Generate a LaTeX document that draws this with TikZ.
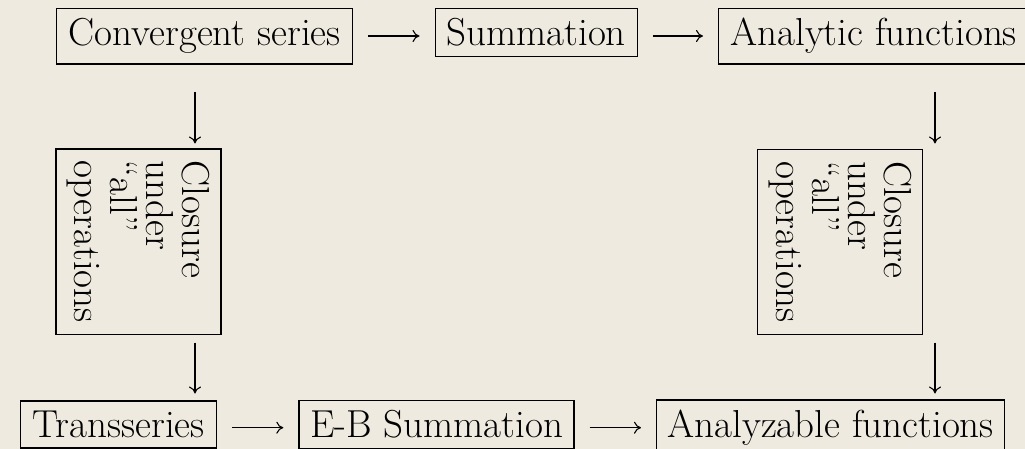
\documentclass[tikz,border=0pt]{standalone}
\usetikzlibrary{arrows.meta}
\definecolor{paper}{RGB}{238,234,224}
\begin{document}
\begin{tikzpicture}[x=1pt,y=-1pt,
  every node/.style={font=\fontsize{39}{36}\selectfont},
  box/.style={draw, line width=1.4pt, inner xsep=0pt, inner ysep=10pt, anchor=base west},
  turned/.style={draw, line width=1.4pt, inner sep=11pt, rotate=-90, align=left,
                 minimum width=185pt, minimum height=165pt},
  link/.style={line width=1.1pt, -{Computer Modern Rightarrow[length=7pt,width=12pt]}},
  gap/.style={shorten <=15pt, shorten >=15pt}]

% paper and page size
\fill[paper] (0,0) rectangle (1025,449);
\useasboundingbox (0,0) rectangle (1025,449);

% top row
\node[box, minimum width=296pt] (conv) at (56,46) {Convergent series};
\node[box, minimum width=202pt] (summ) at (434.5,46) {Summation};
\node[box, minimum width=310pt] (anal) at (718,46) {Analytic functions};

% side boxes, read top to bottom
\node[turned] (closeL) at (138.4,241.7) {Closure\\under\\“all”\\operations};
\node[turned] (closeR) at (840,242) {Closure\\under\\“all”\\operations};

% bottom row
\node[box, minimum width=196pt] (trans) at (20,437.7) {Transseries};
\node[box, minimum width=275pt] (ebsum) at (298.3,437.7) {E-B Summation};
\node[box, minimum width=348pt] (anlz) at (656,437.7) {Analyzable functions};

% horizontal maps
\draw[link, gap] ([yshift=10pt]conv.base east) -- ([yshift=10pt]summ.base west);
\draw[link, gap] ([yshift=10pt]summ.base east) -- ([yshift=10pt]anal.base west);
\draw[link, gap] ([yshift=10pt]trans.base east) -- ([yshift=10pt]ebsum.base west);
\draw[link, gap] ([yshift=10pt]ebsum.base east) -- ([yshift=10pt]anlz.base west);

% vertical maps
\coordinate (la) at (195,92);
\coordinate (lb) at (195,143.5);
\coordinate (lc) at (195,342.5);
\coordinate (ld) at (195,393.5);
\coordinate (ra) at (935,92);
\coordinate (rb) at (935,143.5);
\coordinate (rc) at (935,342.5);
\coordinate (rd) at (935,393.5);
\draw[link] (la) -- (lb);
\draw[link] (lc) -- (ld);
\draw[link] (ra) -- (rb);
\draw[link] (rc) -- (rd);
\end{tikzpicture}
\end{document}
